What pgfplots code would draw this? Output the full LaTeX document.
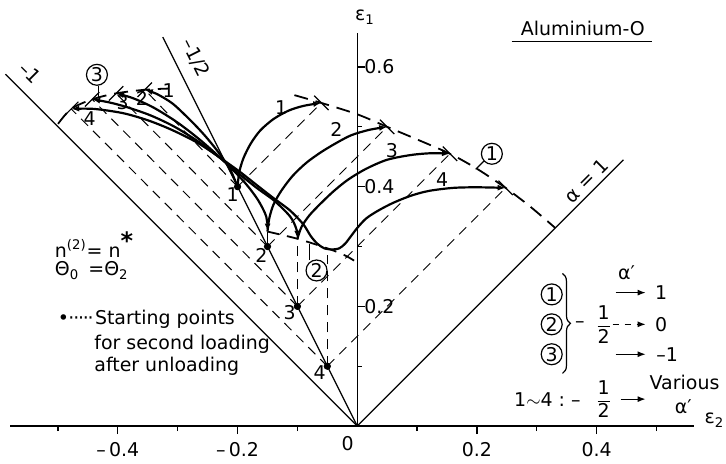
\documentclass[border=0pt]{standalone}
\usepackage{pgfplots}
\pgfplotsset{compat=1.18}
\usepackage{amsmath}
\usepackage{fontspec}
\setmainfont{DejaVu Sans}
\usetikzlibrary{arrows.meta,decorations.pathreplacing}
\begin{document}
\begin{tikzpicture}[font=\fontsize{9.5}{11}\selectfont,
  circ/.style={circle,draw,line width=0.6pt,inner sep=0pt,minimum size=10.5pt}]
\begin{axis}[
  x=300pt, y=300pt,
  xmin=-0.58, xmax=0.562, ymin=0, ymax=0.657,
  axis lines=middle,
  axis line style={-, line width=0.6pt},
  clip=false,
  xtick={-0.4,-0.2,0.2,0.4},
  xticklabels={{–\,0.4},{–\,0.2},{0.2},{0.4}},
  minor xtick={-0.5,-0.3,-0.1,0.1,0.3,0.5},
  ytick={0.2,0.4,0.6},
  yticklabels={0.2,0.4,0.6},
  minor ytick={0.1,0.3,0.5},
  major tick length=4pt, minor tick length=2.5pt,
  tick align=center,
  tick style={line width=0.6pt, black},
  every major x tick/.append style={yshift=-2pt},
  every minor x tick/.append style={yshift=-1.25pt},
  every major y tick/.append style={xshift=2pt},
  every minor y tick/.append style={xshift=1.25pt},
  xticklabel style={yshift=-2.5pt, font=\fontsize{9.5}{11}\selectfont},
  yticklabel style={anchor=west, xshift=2pt, font=\fontsize{9.5}{11}\selectfont},
  /pgf/number format/assume math mode=true,
]
% bounding box
\path (axis cs:-0.597,-0.055) rectangle (axis cs:0.613,0.712);

% reference straight lines
\addplot[black, line width=0.6pt] coordinates {(0,0) (-0.588,0.588)};
\addplot[black, line width=0.6pt] coordinates {(0,0) (-0.325,0.65)};
\addplot[black, line width=0.6pt] coordinates {(0,0) (0.445,0.445)};

% thin dashed paths: alpha'=1 direction
\addplot[black, line width=0.5pt, dash pattern=on 5pt off 3.5pt] coordinates {(-0.2,0.4) (-0.06,0.54)};
\addplot[black, line width=0.5pt, dash pattern=on 5pt off 3.5pt] coordinates {(-0.15,0.3) (0.05,0.5)};
\addplot[black, line width=0.5pt, dash pattern=on 5pt off 3.5pt] coordinates {(-0.1,0.2) (0.155,0.455)};
\addplot[black, line width=0.5pt, dash pattern=on 5pt off 3.5pt] coordinates {(-0.05,0.1) (0.248,0.398)};
% alpha'=-1 direction
\addplot[black, line width=0.5pt, dash pattern=on 5pt off 3.5pt] coordinates {(-0.2,0.4) (-0.355,0.562)};
\addplot[black, line width=0.5pt, dash pattern=on 5pt off 3.5pt] coordinates {(-0.15,0.3) (-0.403,0.556)};
\addplot[black, line width=0.5pt, dash pattern=on 5pt off 3.5pt] coordinates {(-0.1,0.2) (-0.443,0.546)};
\addplot[black, line width=0.5pt, dash pattern=on 5pt off 3.5pt] coordinates {(-0.05,0.1) (-0.478,0.53)};
% alpha'=0 direction
\addplot[black, line width=0.5pt, dash pattern=on 5pt off 3.5pt] coordinates {(-0.1,0.2) (-0.1,0.313)};
\addplot[black, line width=0.5pt, dash pattern=on 5pt off 3.5pt] coordinates {(-0.05,0.1) (-0.05,0.297)};
\addplot[black, line width=0.5pt] coordinates {(-0.15,0.3) (-0.15,0.325)};

% limit curves (thick dashed)
\addplot[black, line width=0.9pt, dash pattern=on 7pt off 4pt, smooth] coordinates {
 (-0.105,0.553) (-0.06,0.54) (0.0,0.521) (0.05,0.5) (0.1,0.479) (0.155,0.455) (0.2,0.43) (0.248,0.398) (0.29,0.366) (0.331,0.331)};
\addplot[black, line width=0.9pt, dash pattern=on 7pt off 4pt, smooth] coordinates {
 (-0.5,0.505) (-0.478,0.53) (-0.443,0.546) (-0.403,0.556) (-0.355,0.562) (-0.315,0.564)};
\addplot[black, line width=0.9pt, dash pattern=on 6pt off 4pt, smooth] coordinates {
 (-0.15,0.325) (-0.1,0.313) (-0.05,0.297) (-0.02,0.285) (0.005,0.27)};

% strain paths: family 1
\addplot[black, line width=1.1pt, smooth, -{Latex[length=4pt,width=3pt]}] coordinates {
 (-0.2,0.4) (-0.197,0.425) (-0.19,0.448) (-0.178,0.472) (-0.162,0.494) (-0.14,0.513) (-0.115,0.527) (-0.09,0.535) (-0.06,0.54)};
\addplot[black, line width=1.1pt, smooth, -{Latex[length=4pt,width=3pt]}] coordinates {
 (-0.15,0.325) (-0.147,0.347) (-0.14,0.37) (-0.127,0.393) (-0.108,0.418) (-0.085,0.44) (-0.06,0.458) (-0.035,0.473) (-0.01,0.486) (0.02,0.495) (0.05,0.5)};
\addplot[black, line width=1.1pt, smooth, -{Latex[length=4pt,width=3pt]}] coordinates {
 (-0.1,0.313) (-0.093,0.333) (-0.08,0.352) (-0.063,0.37) (-0.04,0.392) (-0.015,0.412) (0.015,0.43) (0.05,0.445) (0.09,0.453) (0.125,0.456) (0.155,0.455)};
\addplot[black, line width=1.1pt, smooth, -{Latex[length=4pt,width=3pt]}] coordinates {
 (-0.042,0.295) (-0.03,0.297) (-0.02,0.305) (-0.01,0.318) (0.0,0.331) (0.015,0.347) (0.035,0.36) (0.06,0.373) (0.09,0.385) (0.12,0.393) (0.16,0.398) (0.2,0.399) (0.248,0.398)};
% family 3
\addplot[black, line width=1.1pt, smooth, -{Latex[length=4pt,width=3pt]}] coordinates {
 (-0.2,0.4) (-0.212,0.428) (-0.23,0.455) (-0.25,0.48) (-0.268,0.5) (-0.29,0.522) (-0.31,0.54) (-0.335,0.555) (-0.355,0.562)};
\addplot[black, line width=1.1pt, smooth, {Latex[length=4pt,width=3pt]}-{Latex[length=4pt,width=3pt]}] coordinates {
 (-0.15,0.325) (-0.152,0.35) (-0.166,0.378) (-0.188,0.407) (-0.22,0.44) (-0.26,0.476) (-0.3,0.507) (-0.34,0.532) (-0.375,0.548) (-0.403,0.556)};
\addplot[black, line width=1.1pt, smooth, {Latex[length=4pt,width=3pt]}-{Latex[length=4pt,width=3pt]}] coordinates {
 (-0.1,0.313) (-0.102,0.33) (-0.112,0.35) (-0.138,0.376) (-0.168,0.398) (-0.198,0.422) (-0.228,0.447) (-0.265,0.475) (-0.305,0.5) (-0.345,0.519) (-0.385,0.533) (-0.415,0.541) (-0.443,0.546)};
\addplot[black, line width=1.1pt, smooth, -{Latex[length=4pt,width=3pt]}] coordinates {
 (-0.042,0.295) (-0.055,0.297) (-0.067,0.305) (-0.078,0.318) (-0.09,0.337) (-0.112,0.36) (-0.14,0.381) (-0.167,0.402) (-0.195,0.424) (-0.23,0.449) (-0.268,0.474) (-0.31,0.495) (-0.35,0.511) (-0.392,0.523) (-0.44,0.53) (-0.478,0.53)};

% end ticks
\addplot[black, line width=0.6pt] coordinates {(-0.072,0.552) (-0.048,0.528)};
\addplot[black, line width=0.6pt] coordinates {(0.038,0.512) (0.062,0.488)};
\addplot[black, line width=0.6pt] coordinates {(0.143,0.467) (0.167,0.443)};
\addplot[black, line width=0.6pt] coordinates {(0.236,0.41) (0.26,0.386)};
\addplot[black, line width=0.6pt] coordinates {(-0.367,0.55) (-0.343,0.574)};
\addplot[black, line width=0.6pt] coordinates {(-0.415,0.544) (-0.391,0.568)};
\addplot[black, line width=0.6pt] coordinates {(-0.455,0.534) (-0.431,0.558)};
\addplot[black, line width=0.6pt] coordinates {(-0.49,0.518) (-0.466,0.542)};

% starting points
\addplot[only marks, mark=*, mark size=1.6pt, black] coordinates {(-0.2,0.4) (-0.15,0.3) (-0.1,0.2) (-0.05,0.1)};

% labels
\node[anchor=base west, inner sep=0pt] at (axis cs:-0.004,0.677) {ε\textsubscript{1}};
\node[anchor=base west, inner sep=0pt] at (axis cs:0.58,0.004) {ε\textsubscript{2}};
\node at (axis cs:-0.016,-0.03) {0};
\node at (axis cs:0.377,0.665) {Aluminium-O};
\draw[line width=0.6pt] (axis cs:0.258,0.642) -- (axis cs:0.492,0.642);

\node[rotate=-45, inner sep=0pt] at (axis cs:-0.547,0.59) {–1};
\node[rotate=-63.4, inner sep=0pt] at (axis cs:-0.27,0.615) {–1/2};
\node[rotate=45, inner sep=0pt] at (axis cs:0.383,0.41) {α = 1};

\node at (axis cs:-0.208,0.387) {1};
\node at (axis cs:-0.16,0.285) {2};
\node at (axis cs:-0.113,0.19) {3};
\node at (axis cs:-0.063,0.09) {4};

\node at (axis cs:-0.127,0.532) {1};
\node at (axis cs:-0.035,0.495) {2};
\node at (axis cs:0.058,0.46) {3};
\node at (axis cs:0.142,0.412) {4};

\node at (axis cs:-0.315,0.56) {1};
\node at (axis cs:-0.36,0.548) {2};
\node at (axis cs:-0.392,0.54) {3};
\node at (axis cs:-0.447,0.513) {4};

\node[circ] at (axis cs:-0.435,0.587) {3};
\draw[line width=0.6pt] (axis cs:-0.433,0.569) -- (axis cs:-0.433,0.549);
\node[circ] at (axis cs:0.225,0.455) {1};
\draw[line width=0.6pt] (axis cs:0.212,0.443) -- (axis cs:0.198,0.429);
\node[circ] at (axis cs:-0.068,0.26) {2};
\draw[line width=0.6pt] (axis cs:-0.08,0.304) -- (axis cs:-0.08,0.278);

% left text
\node[anchor=west] at (axis cs:-0.517,0.303) {n\textsuperscript{(2)}= n\textsuperscript{\large\bfseries *}};
\node[anchor=west] at (axis cs:-0.517,0.26) {Θ\textsubscript{0} \,=Θ\textsubscript{2}};
\node[anchor=west] at (axis cs:-0.512,0.178) {•\makebox[13pt]{\leaders\hbox to 2.4pt{\hss·\hss}\hfill}Starting points};
\node[anchor=west] at (axis cs:-0.451,0.137) {for second loading};
\node[anchor=west] at (axis cs:-0.451,0.1) {after unloading};

% right legend
\node at (axis cs:0.45,0.257) {α′};
\node[circ] at (axis cs:0.325,0.22) {1};
\node[circ] at (axis cs:0.325,0.17) {2};
\node[circ] at (axis cs:0.325,0.12) {3};
\draw[decorate,decoration={brace,amplitude=4pt},line width=0.6pt] (axis cs:0.343,0.255) -- (axis cs:0.343,0.088);
\node at (axis cs:0.372,0.17) {–};
\node at (axis cs:0.412,0.17) {$\dfrac{\textrm{1}}{\textrm{2}}$};
\draw[line width=0.6pt, dash pattern=on 3pt off 3pt, -{Latex[length=4pt,width=3pt]}] (axis cs:0.427,0.17) -- (axis cs:0.482,0.17);
\node at (axis cs:0.508,0.17) {0};
\draw[line width=0.6pt, -{Latex[length=4pt,width=3pt]}] (axis cs:0.432,0.223) -- (axis cs:0.482,0.223);
\node at (axis cs:0.508,0.223) {1};
\draw[line width=0.6pt, -{Latex[length=4pt,width=3pt]}] (axis cs:0.432,0.12) -- (axis cs:0.482,0.12);
\node[anchor=west] at (axis cs:0.488,0.12) {–1};
\node[anchor=east] at (axis cs:0.385,0.045) {1$\sim$4 :\ –};
\node at (axis cs:0.412,0.045) {$\dfrac{\textrm{1}}{\textrm{2}}$};
\draw[line width=0.6pt, -{Latex[length=4pt,width=3pt]}] (axis cs:0.44,0.045) -- (axis cs:0.482,0.045);
\node at (axis cs:0.547,0.073) {Various};
\node at (axis cs:0.545,0.033) {α′};
\end{axis}
\end{tikzpicture}
\end{document}
